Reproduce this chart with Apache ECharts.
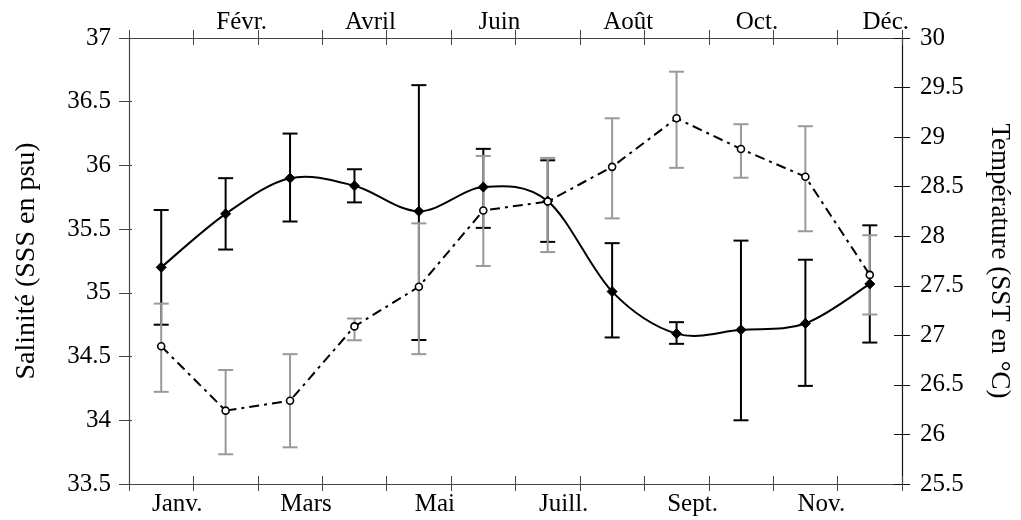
<!DOCTYPE html>
<html>
<head>
<meta charset="utf-8">
<script src="https://cdn.jsdelivr.net/npm/echarts@6/dist/echarts.min.js"></script>
<style>html,body{margin:0;padding:0;background:#fff;}#c{width:1021px;height:520px;}</style>
</head>
<body>
<div id="c"></div>
<script>
var months = ['Janv.','Févr.','Mars','Avril','Mai','Juin','Juill.','Août','Sept.','Oct.','Nov.','Déc.'];
var sss     = [35.20, 35.62, 35.90, 35.84, 35.64, 35.83, 35.72, 35.01, 34.68, 34.71, 34.76, 35.07];
var sssLow  = [34.75, 35.34, 35.56, 35.71, 34.63, 35.51, 35.40, 34.65, 34.60, 34.00, 34.27, 34.61];
var sssHigh = [35.65, 35.90, 36.25, 35.97, 36.63, 36.13, 36.04, 35.39, 34.77, 35.41, 35.26, 35.53];
var sst     = [26.89, 26.24, 26.34, 27.09, 27.49, 28.26, 28.35, 28.70, 29.19, 28.88, 28.60, 27.61];
var sstLow  = [26.43, 25.80, 25.87, 26.95, 26.81, 27.70, 27.84, 28.18, 28.69, 28.59, 28.05, 27.21];
var sstHigh = [27.32, 26.65, 26.81, 27.17, 28.13, 28.81, 28.79, 29.19, 29.66, 29.13, 29.11, 28.01];

var FONT = 'Liberation Serif';
var FS = 25;
var AX = '#444';

function errData(lo, hi) {
  return months.map(function (m, i) { return [i, lo[i], hi[i]]; });
}
function errRender(color) {
  return function (params, api) {
    var x = api.value(0);
    var a = api.coord([x, api.value(2)]);
    var b = api.coord([x, api.value(1)]);
    var w = 7.5;
    var st = { stroke: color, lineWidth: 2 };
    return {
      type: 'group',
      children: [
        { type: 'line', shape: { x1: a[0], y1: a[1], x2: b[0], y2: b[1] }, style: st },
        { type: 'line', shape: { x1: a[0] - w, y1: a[1], x2: a[0] + w, y2: a[1] }, style: st },
        { type: 'line', shape: { x1: b[0] - w, y1: b[1], x2: b[0] + w, y2: b[1] }, style: st }
      ]
    };
  };
}
// Smoothed (Catmull-Rom style) curve segment between point i and i+1
function splineRender(vals) {
  return function (params, api) {
    var i = api.value(0);
    var n = vals.length;
    if (i >= n - 1) return null;
    var p0 = api.coord([Math.max(i - 1, 0), vals[Math.max(i - 1, 0)]]);
    var p1 = api.coord([i, vals[i]]);
    var p2 = api.coord([i + 1, vals[i + 1]]);
    var p3 = api.coord([Math.min(i + 2, n - 1), vals[Math.min(i + 2, n - 1)]]);
    return {
      type: 'bezierCurve',
      shape: {
        x1: p1[0], y1: p1[1], x2: p2[0], y2: p2[1],
        cpx1: p1[0] + (p2[0] - p0[0]) / 6, cpy1: p1[1] + (p2[1] - p0[1]) / 6,
        cpx2: p2[0] - (p3[0] - p1[0]) / 6, cpy2: p2[1] - (p3[1] - p1[1]) / 6
      },
      style: { stroke: '#000', lineWidth: 2, fill: null }
    };
  };
}

var baseX = {
  type: 'category', data: months, boundaryGap: true,
  axisLine: { lineStyle: { color: AX, width: 1.2 } },
  splitLine: { show: false }
};
function xAx(extra) { return Object.assign({}, baseX, extra); }

var chart = echarts.init(document.getElementById('c'), null, { renderer: 'canvas' });
chart.setOption({
  animation: false,
  backgroundColor: '#fff',
  grid: { left: 129, right: 114, top: 38, bottom: 36, containLabel: false },
  xAxis: [
    xAx({ position: 'bottom',
      axisTick: { show: true, inside: false, length: 7, interval: 0, lineStyle: { color: AX } },
      axisLabel: { interval: 1, margin: 8, fontFamily: FONT, fontSize: FS, color: '#000', padding: [0, 0, 0, 32] } }),
    xAx({ position: 'top',
      axisTick: { show: true, inside: false, length: 8, interval: 0, lineStyle: { color: AX } },
      axisLabel: { interval: function (i) { return i % 2 === 1; }, margin: 3, fontFamily: FONT, fontSize: FS, color: '#000', padding: [0, 0, 0, 32] } }),
    xAx({ position: 'bottom', axisLine: { show: false },
      axisTick: { show: true, inside: true, length: 8, interval: 0, lineStyle: { color: AX } },
      axisLabel: { show: false } }),
    xAx({ position: 'top', axisLine: { show: false },
      axisTick: { show: true, inside: true, length: 7, interval: 0, lineStyle: { color: AX } },
      axisLabel: { show: false } })
  ],
  yAxis: [
    { type: 'value', position: 'left', min: 33.5, max: 37, interval: 0.5,
      name: 'Salinité (SSS en psu)', nameLocation: 'middle', nameGap: 88, nameRotate: 90,
      nameTextStyle: { fontFamily: FONT, fontSize: 28, color: '#000' },
      axisLine: { show: true, lineStyle: { color: AX, width: 1.2 } },
      axisTick: { show: true, inside: false, length: 10, lineStyle: { color: AX } },
      axisLabel: { margin: 18, fontFamily: FONT, fontSize: FS, color: '#000' },
      splitLine: { show: false } },
    { type: 'value', position: 'right', min: 25.5, max: 30, interval: 0.5,
      name: 'Température (SST en °C)', nameLocation: 'middle', nameGap: 84, nameRotate: -90,
      nameTextStyle: { fontFamily: FONT, fontSize: 27, color: '#000' },
      axisLine: { show: true, lineStyle: { color: '#111', width: 1.2 } },
      axisTick: { show: true, inside: false, length: 8, lineStyle: { color: '#111' } },
      axisLabel: { margin: 18, fontFamily: FONT, fontSize: FS, color: '#000' },
      splitLine: { show: false } },
    { type: 'value', position: 'right', min: 25.5, max: 30, interval: 0.5,
      axisLine: { show: false },
      axisTick: { show: true, inside: true, length: 8, lineStyle: { color: '#111' } },
      axisLabel: { show: false }, splitLine: { show: false } },
    { type: 'value', position: 'left', min: 33.5, max: 37, interval: 0.5,
      axisLine: { show: false },
      axisTick: { show: true, inside: true, length: 3, lineStyle: { color: AX } },
      axisLabel: { show: false }, splitLine: { show: false } }
  ],
  series: [
    { type: 'custom', name: 'errSSS', xAxisIndex: 0, yAxisIndex: 0,
      renderItem: errRender('#000'), data: errData(sssLow, sssHigh),
      encode: { x: 0, y: [1, 2] }, z: 2, silent: true },
    { type: 'custom', name: 'errSST', xAxisIndex: 0, yAxisIndex: 1,
      renderItem: errRender('#999'), data: errData(sstLow, sstHigh),
      encode: { x: 0, y: [1, 2] }, z: 3, silent: true },
    { type: 'custom', name: 'SSScurve', xAxisIndex: 0, yAxisIndex: 0,
      renderItem: splineRender(sss),
      data: months.map(function (m, i) { return [i, sss[i]]; }),
      encode: { x: 0, y: 1 }, z: 4, silent: true },
    { type: 'line', name: 'SSS', xAxisIndex: 0, yAxisIndex: 0, data: sss,
      symbol: 'diamond', symbolSize: 10,
      lineStyle: { opacity: 0, width: 0 },
      itemStyle: { color: '#000', borderColor: '#000' }, z: 5 },
    { type: 'line', name: 'SST', xAxisIndex: 0, yAxisIndex: 1, data: sst,
      smooth: false, symbol: 'circle', symbolSize: 7, showSymbol: true,
      lineStyle: { color: '#000', width: 2, type: [10, 5, 3, 5] },
      itemStyle: { color: '#fff', borderColor: '#000', borderWidth: 1.6 }, z: 6 }
  ]
});
</script>
</body>
</html>
